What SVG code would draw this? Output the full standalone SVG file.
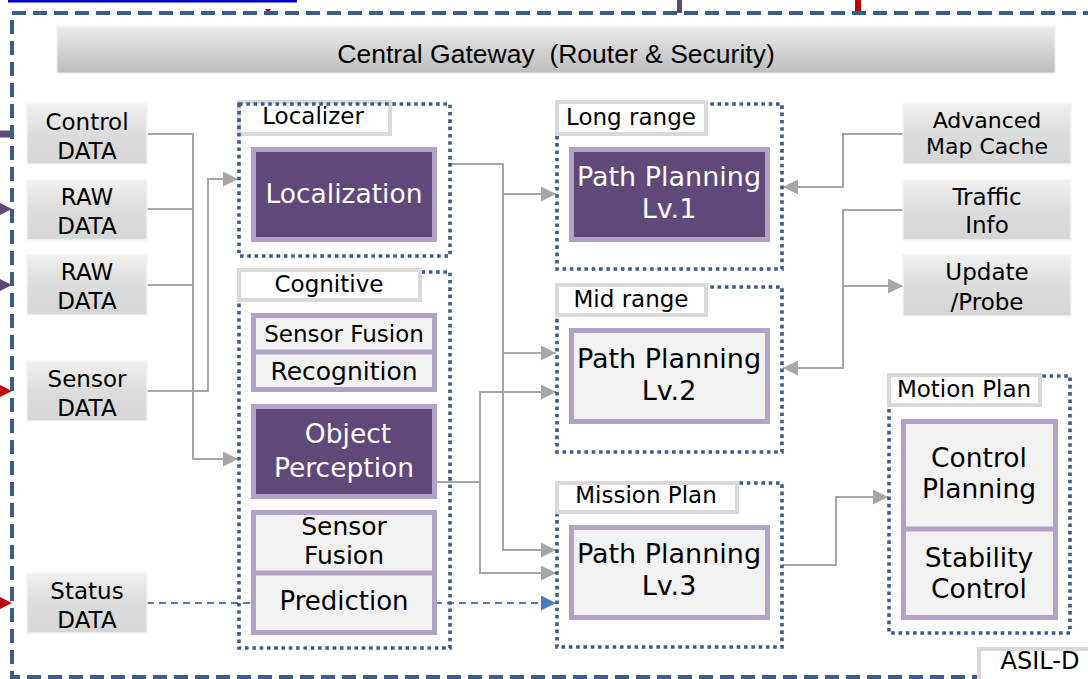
<svg xmlns="http://www.w3.org/2000/svg" width="1088" height="679" viewBox="0 0 1088 679">
  <defs>
    <linearGradient id="gwFill" x1="0" y1="0" x2="0" y2="1">
      <stop offset="0" stop-color="#eaeaea"/>
      <stop offset="1" stop-color="#bdbdbd"/>
    </linearGradient>
    <linearGradient id="dataFill" x1="0" y1="0" x2="0" y2="1">
      <stop offset="0" stop-color="#f0f0f0"/>
      <stop offset="0.5" stop-color="#dcdcdc"/>
      <stop offset="1" stop-color="#d6d6d6"/>
    </linearGradient>
    <marker id="arrGray" viewBox="0 0 15 15" markerWidth="15" markerHeight="15" refX="15" refY="7.5" orient="auto" markerUnits="userSpaceOnUse">
      <path d="M0,0 L15,7.5 L0,15 z" fill="#a6a6a6"/>
    </marker>
    <marker id="arrBlue" viewBox="0 0 15 15" markerWidth="15" markerHeight="15" refX="15" refY="7.5" orient="auto" markerUnits="userSpaceOnUse">
      <path d="M0,0 L15,7.5 L0,15 z" fill="#4a7ebb"/>
    </marker>
  </defs>
  <style>
    text { font-family: "DejaVu Sans", Verdana, sans-serif; text-anchor: middle; fill: #000; }
    .t23 { font-size: 23px; }
    .t26 { font-size: 26.5px; }
    .t27 { font-size: 27px; }
    .white { fill: #ffffff; }
    .gwtext { font-family: "Liberation Sans", Arial, sans-serif; font-size: 26.5px; white-space: pre; }
    .data { fill: url(#dataFill); stroke: #f4f4f4; stroke-width: 1.5; }
    .group { fill: none; stroke: #3a5d8c; stroke-width: 3.6; stroke-dasharray: 3.6 3.7; }
    .label { fill: #ffffff; stroke: #d9d9d9; stroke-width: 4; }
    .dark { fill: #5f497a; stroke: #b3a2c7; stroke-width: 5; }
    .light { fill: #f2f2f2; stroke: #b3a2c7; stroke-width: 5; }
    .div { stroke: #b3a2c7; stroke-width: 5; }
    .conn { fill: none; stroke: #a6a6a6; stroke-width: 2; }
    .dashconn { fill: none; stroke: #4a7ebb; stroke-width: 2; stroke-dasharray: 7 5; }
  </style>

  <rect width="1088" height="679" fill="#ffffff"/>

  <!-- incoming lines at the top edge -->
  <rect x="8" y="0" width="289" height="2.5" fill="#0000cc"/>
  <rect x="677" y="0" width="5" height="13" fill="#5f497a"/>
  <rect x="855" y="0" width="6" height="12" fill="#c00000"/>
  <path d="M265,9 L271,9 L268,13 z" fill="#c00000"/>

  <!-- incoming arrows at the left edge -->
  <rect x="0" y="130.5" width="12" height="7" fill="#5f497a"/>
  <path d="M0,203 L12,209 L0,215 z" fill="#5f497a"/>
  <path d="M0,279 L12,285 L0,291 z" fill="#5f497a"/>
  <path d="M0,385 L12,391 L0,397 z" fill="#c00000"/>
  <path d="M0,597 L12,603 L0,609 z" fill="#c00000"/>

  <!-- ASIL-D boundary -->
  <rect x="12" y="13" width="1100" height="664" fill="none" stroke="#3a5d8c" stroke-width="4" stroke-dasharray="14 7"/>

  <g id="gateway">
    <rect x="56" y="26" width="1000" height="48" fill="#f4f4f4"/>
    <rect x="57.5" y="27.5" width="997" height="45" fill="url(#gwFill)"/>
    <text class="gwtext" x="556" y="63" xml:space="preserve">Central Gateway  (Router &amp; Security)</text>
  </g>

  <!-- connectors -->
  <g id="connectors">
    <path class="conn" d="M147,134 H193 V459 H238" marker-end="url(#arrGray)"/>
    <path class="conn" d="M147,209 H193"/>
    <path class="conn" d="M147,285 H193"/>
    <path class="conn" d="M147,391 H208 V179 H238" marker-end="url(#arrGray)"/>
    <path class="dashconn" d="M147,603 H556" marker-end="url(#arrBlue)"/>
    <path class="conn" d="M451,164 H503 V550 H556" marker-end="url(#arrGray)"/>
    <path class="conn" d="M503,194 H556" marker-end="url(#arrGray)"/>
    <path class="conn" d="M503,353 H556" marker-end="url(#arrGray)"/>
    <path class="conn" d="M437,482 H480 V392 H556" marker-end="url(#arrGray)"/>
    <path class="conn" d="M480,482 V573 H556" marker-end="url(#arrGray)"/>
    <path class="conn" d="M903,134 H843 V187 H783" marker-end="url(#arrGray)"/>
    <path class="conn" d="M903,210 H843 V368 H783" marker-end="url(#arrGray)"/>
    <path class="conn" d="M843,286 H903" marker-end="url(#arrGray)"/>
    <path class="conn" d="M783,565 H836 V497 H888" marker-end="url(#arrGray)"/>
  </g>

  <!-- input data -->
  <g id="control-data">
    <rect class="data" x="27" y="104" width="120" height="60"/>
    <text class="t23" x="87" y="130">Control</text>
    <text class="t23" x="87" y="159">DATA</text>
  </g>
  <g id="raw-data-1">
    <rect class="data" x="27" y="180" width="120" height="60"/>
    <text class="t23" x="87" y="205">RAW</text>
    <text class="t23" x="87" y="234">DATA</text>
  </g>
  <g id="raw-data-2">
    <rect class="data" x="27" y="255" width="120" height="60"/>
    <text class="t23" x="87" y="280">RAW</text>
    <text class="t23" x="87" y="309">DATA</text>
  </g>
  <g id="sensor-data">
    <rect class="data" x="27" y="361" width="120" height="60"/>
    <text class="t23" x="87" y="387">Sensor</text>
    <text class="t23" x="87" y="416">DATA</text>
  </g>
  <g id="status-data">
    <rect class="data" x="27" y="573" width="120" height="60"/>
    <text class="t23" x="87" y="599">Status</text>
    <text class="t23" x="87" y="628">DATA</text>
  </g>

  <!-- Localizer -->
  <g id="localizer">
    <rect class="label" x="239" y="102" width="151" height="32"/>
    <rect class="group" x="239" y="104" width="211" height="152"/>
    <text class="t23" x="313" y="124">Localizer</text>
    <rect class="dark" x="253.5" y="149.5" width="181" height="90"/>
    <text class="t26 white" x="344" y="203">Localization</text>
  </g>

  <!-- Cognitive -->
  <g id="cognitive">
    <rect class="group" x="239" y="272" width="211" height="376"/>
    <rect class="label" x="239" y="270" width="181" height="30"/>
    <text class="t23" x="329" y="292">Cognitive</text>
    <g id="recognition">
      <rect class="light" x="253.5" y="315.5" width="181" height="74"/>
      <line class="div" x1="251" y1="352" x2="437" y2="352"/>
      <text class="t23" x="344" y="342">Sensor Fusion</text>
      <text style="font-size: 25px;" x="344" y="380">Recognition</text>
    </g>
    <g id="object-perception">
      <rect class="dark" x="253.5" y="406.5" width="181" height="90"/>
      <text class="t26 white" x="348" y="443">Object</text>
      <text class="t26 white" x="344" y="477">Perception</text>
    </g>
    <g id="prediction">
      <rect class="light" x="253.5" y="512.5" width="181" height="120"/>
      <line class="div" x1="251" y1="573" x2="437" y2="573"/>
      <text style="font-size: 25px;" x="344" y="535">Sensor</text>
      <text style="font-size: 25px;" x="344" y="564">Fusion</text>
      <text style="font-size: 26px;" x="344" y="610">Prediction</text>
    </g>
  </g>

  <!-- Path planning levels -->
  <g id="long-range">
    <rect class="group" x="557" y="104" width="225" height="165"/>
    <rect class="label" x="557" y="102" width="149" height="32"/>
    <text class="t23" x="631" y="125">Long range</text>
    <rect class="dark" x="571.5" y="149.5" width="196" height="90"/>
    <text class="t27 white" x="669" y="186">Path Planning</text>
    <text class="t27 white" x="669" y="218">Lv.1</text>
  </g>
  <g id="mid-range">
    <rect class="group" x="557" y="287" width="225" height="165"/>
    <rect class="label" x="557" y="285" width="149" height="30"/>
    <text class="t23" x="631" y="307">Mid range</text>
    <rect class="light" x="571.5" y="330.5" width="196" height="91"/>
    <text class="t27" x="669" y="368">Path Planning</text>
    <text class="t27" x="669" y="400">Lv.2</text>
  </g>
  <g id="mission-plan">
    <rect class="group" x="557" y="483" width="225" height="164"/>
    <rect class="label" x="557" y="483" width="180" height="29"/>
    <text class="t23" x="646" y="503">Mission Plan</text>
    <rect class="light" x="571.5" y="527.5" width="196" height="90"/>
    <text class="t27" x="669" y="563">Path Planning</text>
    <text class="t27" x="669" y="595">Lv.3</text>
  </g>

  <!-- external services -->
  <g id="map-cache">
    <rect class="data" x="903" y="104" width="168" height="60"/>
    <text style="font-size: 22px;" x="987" y="128">Advanced</text>
    <text style="font-size: 22px;" x="987" y="154">Map Cache</text>
  </g>
  <g id="traffic-info">
    <rect class="data" x="903" y="180" width="168" height="60"/>
    <text class="t23" x="987" y="205">Traffic</text>
    <text class="t23" x="987" y="233">Info</text>
  </g>
  <g id="update-probe">
    <rect class="data" x="903" y="255" width="168" height="61"/>
    <text class="t23" x="987" y="280">Update</text>
    <text class="t23" x="987" y="310">/Probe</text>
  </g>

  <!-- Motion plan -->
  <g id="motion-plan">
    <rect class="group" x="889" y="376" width="181" height="257"/>
    <rect class="label" x="889" y="375" width="151" height="30"/>
    <text class="t23" x="964" y="397">Motion Plan</text>
    <rect class="light" x="903.5" y="421.5" width="152" height="196"/>
    <line class="div" x1="901" y1="529" x2="1058" y2="529"/>
    <text class="t26" x="979" y="467">Control</text>
    <text class="t26" x="979" y="498">Planning</text>
    <text class="t26" x="979" y="567">Stability</text>
    <text class="t26" x="979" y="598">Control</text>
  </g>

  <g id="asil-d">
    <rect class="label" x="979" y="649" width="120" height="34"/>
    <text style="font-size: 24px;" x="1040" y="669">ASIL-D</text>
  </g>
</svg>
